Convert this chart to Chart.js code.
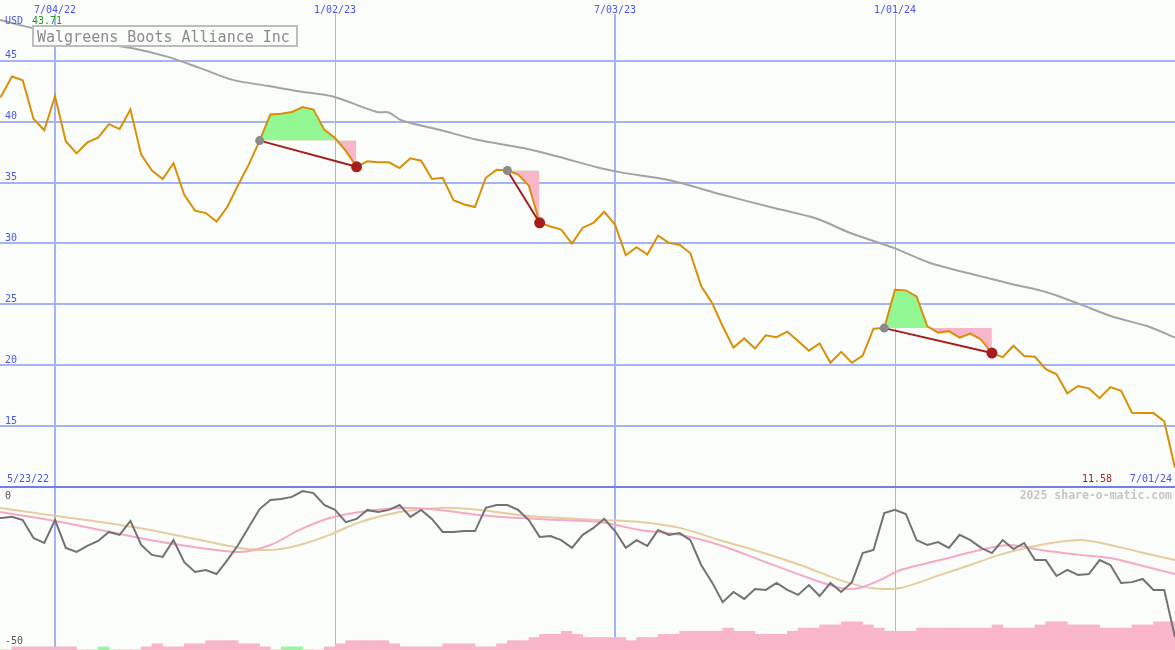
<!DOCTYPE html>
<html>
<head>
<meta charset="utf-8">
<title>Walgreens Boots Alliance Inc</title>
<script src="https://cdn.jsdelivr.net/npm/chart.js@4.4.1/dist/chart.umd.min.js"></script>
<style>
  html, body { margin: 0; padding: 0; background: #fbfdfb; }
  canvas { display: block; }
</style>
</head>
<body>
<canvas id="chart" width="1175" height="650"></canvas>
<script>
// weekly closes, week 0 = 5/23/22
const title = "Walgreens Boots Alliance Inc";
const currency = "USD";
const startLabel = "5/23/22";
const endLabel = "7/01/24";

const price = [
  41.6, 42.1, 43.71, 43.4, 40.25, 39.3, 42.1, 38.4, 37.4, 38.3,
  38.7, 39.8, 39.4, 41.0, 37.3, 36.0, 35.3, 36.6, 34.0, 32.7,
  32.5, 31.8, 33.0, 34.8, 36.5, 38.45, 40.6, 40.65, 40.8, 41.2,
  41.0, 39.35, 38.66, 37.6, 36.3, 36.75, 36.67, 36.67, 36.2, 37.0,
  36.8, 35.3, 35.4, 33.55, 33.2, 33.0, 35.4, 36.05, 36.0, 35.66,
  34.75, 31.7, 31.4, 31.15, 30.0, 31.3, 31.7, 32.6, 31.56, 29.04,
  29.7, 29.1, 30.65, 30.05, 29.9, 29.2, 26.5, 25.14, 23.2, 21.45,
  22.2, 21.37, 22.46, 22.3, 22.76, 22.0, 21.2, 21.8, 20.2, 21.1,
  20.2, 20.8, 23.0, 23.05, 26.2, 26.15, 25.66, 23.2, 22.68, 22.8,
  22.27, 22.6, 22.1, 21.0, 20.67, 21.6, 20.76, 20.7, 19.67, 19.26,
  17.7, 18.3, 18.1, 17.3, 18.2, 17.9, 16.1, 16.07, 16.07, 15.4,
  11.58
];

// long moving average (grey line)
const maWeeks = [0.9, 4, 10.2, 13.2, 16.4, 19.5, 22.5, 25.7, 28.75, 31.8, 35.9, 37, 38.2, 41.7, 45.2, 49.5, 52.6, 56.6, 58.8, 62.8, 68, 72.7, 76.7, 79.8, 84, 87.2, 91.9, 95, 98.1, 101.2, 104.3, 107.4, 110];
const maValues = [48.36, 47.68, 46.45, 46.04, 45.35, 44.4, 43.44, 42.95, 42.48, 42.07, 40.8, 40.76, 40.1, 39.34, 38.52, 37.84, 37.16, 36.2, 35.8, 35.25, 34.0, 32.93, 32.05, 30.88, 29.6, 28.42, 27.32, 26.64, 26.0, 25.0, 23.96, 23.22, 22.27];

// trades: entry week, entry price, exit week
const tradeEntryWeek = [25, 48, 83];
const tradeEntryPrice = [38.45, 36.0, 23.05];
const tradeExitWeek = [34, 51, 93];

// lower panel oscillator
const osc = [
  -7.2, -7.6, -7.2, -8.3, -14.5, -16.2, -8.3, -17.9, -19.3, -17.2,
  -15.5, -12.4, -13.4, -8.6, -16.9, -20.3, -21.0, -15.2, -22.8, -26.2,
  -25.5, -26.9, -22.1, -16.9, -10.7, -4.5, -1.4, -1.0, -0.3, 1.7,
  1.0, -3.1, -4.8, -9.0, -7.9, -4.8, -5.5, -4.8, -3.1, -7.2,
  -4.8, -7.9, -12.4, -12.4, -12.1, -12.1, -4.1, -3.1, -3.1, -4.8,
  -8.3, -14.1, -13.8, -15.2, -17.9, -13.4, -11.0, -7.9, -12.1, -17.9,
  -15.2, -17.2, -11.7, -13.4, -12.8, -15.2, -23.8, -29.7, -36.6, -33.1,
  -35.5, -32.1, -32.4, -30.0, -32.4, -34.1, -30.7, -34.5, -30.0, -33.1,
  -29.7, -19.7, -18.6, -5.9, -4.8, -6.2, -15.2, -16.9, -15.9, -17.9,
  -13.4, -15.2, -17.9, -19.7, -15.2, -18.3, -16.2, -22.1, -22.1, -27.6,
  -25.5, -27.2, -26.9, -22.1, -23.8, -30.0, -29.7, -28.6, -32.4, -32.4,
  -48.6
];
const pinkWeeks = [0.9, 5.5, 10.2, 14.8, 19.5, 23.2, 26, 28.7, 31.5, 34.3, 38, 41.7, 45.5, 49.2, 52.9, 56.6, 60.3, 64, 67.7, 71.5, 75.2, 78.9, 80.7, 82.6, 84.5, 88.2, 91.9, 94.7, 97.5, 101.2, 104, 106.7, 110];
const pinkValues = [-5.5, -8.3, -11.7, -15.2, -17.9, -19.3, -16.9, -11.7, -7.6, -5.5, -4.1, -4.8, -6.6, -7.6, -8.3, -9.0, -11.7, -13.4, -16.9, -22.1, -27.2, -31.7, -31.7, -29.0, -25.5, -22.1, -18.6, -16.9, -18.6, -20.3, -21.4, -23.8, -26.9];
const tanWeeks = [0.9, 5.5, 10.2, 14.8, 19.5, 23.2, 26, 28.7, 31.5, 34.3, 38, 41.7, 45.5, 49.2, 52.9, 56.6, 60.3, 64, 67.7, 71.5, 75.2, 78.9, 81.7, 84.5, 88.2, 91, 93.7, 97.5, 101.2, 104, 106.7, 110];
const tanValues = [-4.1, -6.6, -9.0, -11.7, -15.2, -17.9, -18.6, -16.9, -13.4, -9.0, -5.5, -4.1, -4.8, -6.6, -7.6, -8.3, -9.0, -11.0, -15.2, -19.3, -23.8, -29.0, -31.7, -31.7, -27.2, -23.8, -20.3, -16.9, -15.2, -16.9, -19.3, -22.1];

// histogram along the bottom
const histPink = [
  0, 0, 1, 1, 1, 1, 1, 1, 0, 0,
  0, 0, 0, 0, 1, 2, 1, 1, 2, 2,
  3, 3, 3, 2, 2, 1, 0, 0, 0, 0,
  0, 1, 2, 3, 3, 3, 3, 2, 1, 1,
  1, 1, 2, 2, 2, 1, 1, 2, 3, 3,
  4, 5, 5, 6, 5, 4, 4, 4, 4, 3,
  4, 4, 5, 5, 6, 6, 6, 6, 7, 6,
  6, 5, 5, 5, 6, 7, 7, 8, 8, 9,
  9, 8, 7, 6, 6, 6, 7, 7, 7, 7,
  7, 7, 7, 8, 7, 7, 7, 8, 9, 9,
  8, 8, 8, 7, 7, 7, 8, 8, 9, 9
];
const histGreen = [
  0, 0, 0, 0, 0, 0, 0, 0, 0, 0,
  1, 0, 0, 0, 0, 0, 0, 0, 0, 0,
  0, 0, 0, 0, 0, 0, 0, 1, 1, 0
];

const yTicks = [10, 15, 20, 25, 30, 35, 40, 45];
const y2Ticks = [0, -50];
const xTickWeeks = [6, 32, 58, 84];
const xTickLabels = ["7/04/22", "1/02/23", "7/03/23", "1/01/24"];

const BG = '#fbfdfb';
const BLUE = '#4b55e6';
const GRID = '#a6b3f2';
const MONO = 'DejaVu Sans Mono';

const pts = (xs, ys) => ys.map((v, i) => ({ x: xs[i], y: v }));
const byWeek = (arr, shift) => arr.map((v, i) => ({ x: i + (shift || 0), y: v }));
const noPad = s => { s.width = 0; s.paddingTop = 0; s.paddingBottom = 0; };

const datasets = [];

// trade connectors with entry / exit markers
tradeEntryWeek.forEach((w, t) => {
  const xw = tradeExitWeek[t];
  datasets.push({
    type: 'line', yAxisID: 'y', order: 0,
    data: [{ x: w, y: tradeEntryPrice[t] }, { x: xw, y: price[xw] }],
    borderColor: '#a51d1d', borderWidth: 2,
    pointRadius: [4.5, 5.5], pointBorderWidth: 0,
    pointBackgroundColor: ['#8a8a8a', '#a51d1d']
  });
});

datasets.push({
  type: 'line', yAxisID: 'y', order: 1,
  data: byWeek(price),
  borderColor: '#d98f06', borderWidth: 2, pointRadius: 0, tension: 0
});
datasets.push({
  type: 'line', yAxisID: 'y', order: 2,
  data: pts(maWeeks, maValues),
  borderColor: '#a3a3a3', borderWidth: 2, pointRadius: 0, tension: 0.3
});

// profit / loss shading for each trade
tradeEntryWeek.forEach((w, t) => {
  const seg = price.slice(w, tradeExitWeek[t] + 1).map((v, k) => ({ x: w + k, y: v }));
  datasets.push({
    type: 'line', yAxisID: 'y', order: 3,
    data: seg, borderWidth: 0, pointRadius: 0,
    fill: { target: { value: tradeEntryPrice[t] }, above: '#93f893', below: '#f9b6ca' }
  });
});

datasets.push({
  type: 'line', yAxisID: 'y2', order: 4,
  data: byWeek(osc),
  borderColor: '#727272', borderWidth: 2, pointRadius: 0
});
datasets.push({
  type: 'line', yAxisID: 'y2', order: 5,
  data: pts(pinkWeeks, pinkValues),
  borderColor: '#f6a9c4', borderWidth: 2, pointRadius: 0, tension: 0.3
});
datasets.push({
  type: 'line', yAxisID: 'y2', order: 6,
  data: pts(tanWeeks, tanValues),
  borderColor: '#e4cd9f', borderWidth: 2, pointRadius: 0, tension: 0.3
});
datasets.push({
  type: 'bar', yAxisID: 'y3', order: 7,
  data: byWeek(histPink, 0.5),
  backgroundColor: '#f9b6cb', borderWidth: 0,
  barPercentage: 1, categoryPercentage: 1, grouped: false
});
datasets.push({
  type: 'bar', yAxisID: 'y3', order: 7,
  data: byWeek(histGreen, 0.5),
  backgroundColor: '#98f898', borderWidth: 0,
  barPercentage: 1, categoryPercentage: 1, grouped: false
});

const overlay = {
  id: 'overlay',
  beforeDraw(chart) {
    const c = chart.ctx;
    c.save();
    c.fillStyle = BG;
    c.fillRect(0, 0, chart.width, chart.height);
    c.restore();
  },
  afterDraw(chart) {
    const c = chart.ctx;
    c.save();
    // title box
    c.fillStyle = BG;
    c.fillRect(32, 25, 266, 22);
    c.strokeStyle = '#bdbdbd';
    c.lineWidth = 2;
    c.strokeRect(33, 26, 264, 20);
    c.font = '15px "' + MONO + '"';
    c.fillStyle = '#8a8a8a';
    c.textBaseline = 'alphabetic';
    c.fillText(title, 37, 41.5);

    c.font = '10px "' + MONO + '"';
    c.textBaseline = 'middle';
    c.fillStyle = BLUE;
    c.fillText(currency, 5, 21);
    c.fillStyle = '#1f9a1f';
    c.fillText(Math.max(...price).toFixed(2), 32, 21);

    c.fillStyle = BLUE;
    c.fillText(startLabel, 7, 479);
    c.textAlign = 'right';
    c.fillText(endLabel, 1172, 479);
    c.fillStyle = '#9b2222';
    c.fillText(price[price.length - 1].toFixed(2), 1112, 479);

    c.font = 'bold 11.5px "' + MONO + '"';
    c.fillStyle = '#c6c6c6';
    c.fillText('2025 share-o-matic.com', 1172, 496);
    c.restore();
  }
};

new Chart(document.getElementById('chart'), {
  data: { datasets },
  options: {
    responsive: false,
    animation: false,
    events: [],
    layout: { padding: 0, autoPadding: false },
    plugins: { legend: { display: false }, tooltip: { enabled: false } },
    scales: {
      x: {
        type: 'linear', position: 'top', min: 0.89, max: 110, offset: false,
        afterBuildTicks: s => { s.ticks = xTickWeeks.map(v => ({ value: v })); },
        afterFit: s => { s.height = 14; s.paddingLeft = 0; s.paddingRight = 0; },
        border: { display: false },
        grid: {
          offset: false, drawTicks: false, color: GRID,
          lineWidth: c => (c.tick && xTickLabels[c.index] && xTickLabels[c.index].startsWith('7/')) ? 2 : 1
        },
        ticks: {
          padding: -2, color: BLUE, maxRotation: 0, autoSkip: false,
          font: { family: MONO, size: 10 },
          callback: (v, i) => xTickLabels[i]
        }
      },
      y2: {
        type: 'linear', position: 'left', stack: 'panels', stackWeight: 163,
        min: -53.1, max: 3.1,
        afterBuildTicks: s => { s.ticks = y2Ticks.map(v => ({ value: v })); },
        afterFit: noPad,
        border: { display: false },
        grid: { display: false, drawTicks: false },
        ticks: { mirror: true, padding: 5, color: '#555555', font: { family: MONO, size: 10 } }
      },
      y: {
        type: 'linear', position: 'left', stack: 'panels', stackWeight: 473,
        min: 10, max: 48.85,
        afterBuildTicks: s => { s.ticks = yTicks.map(v => ({ value: v })); },
        afterFit: noPad,
        border: { display: false },
        grid: {
          drawTicks: false, lineWidth: 2,
          color: c => (c.tick && c.tick.value === 10) ? '#6f80ea' : GRID
        },
        ticks: {
          mirror: true, padding: 5, labelOffset: -5, color: BLUE,
          font: { family: MONO, size: 10 },
          callback: v => v === 10 ? '' : v
        }
      },
      y3: {
        type: 'linear', position: 'right', display: false, min: 0, max: 203
      }
    }
  },
  plugins: [overlay]
});
</script>
</body>
</html>
